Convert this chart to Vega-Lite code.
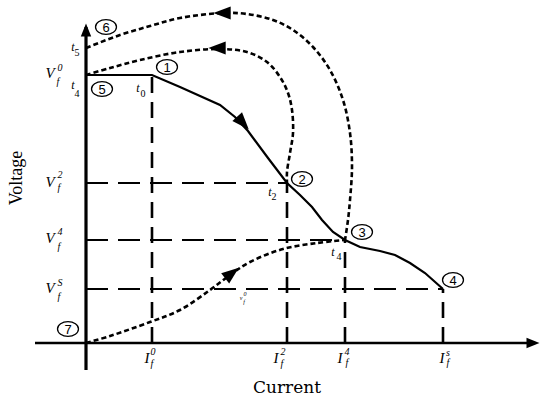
{
  "$schema": "https://vega.github.io/schema/vega-lite/v6.json",
  "width": 550,
  "height": 400,
  "padding": 0,
  "autosize": {"type": "fit", "contains": "padding"},
  "background": "white",
  "config": {"view": {"stroke": null}},
  "datasets": {
    "rules": [
      {"kind": "axisY", "x": 0, "y": -27, "x2": 0, "y2": 316},
      {"kind": "axisX", "x": -51, "y": 0, "x2": 446, "y2": 0},
      {"kind": "dashV", "x": 66, "y": 0, "x2": 66, "y2": 268},
      {"kind": "dashV", "x": 201, "y": 0, "x2": 201, "y2": 160},
      {"kind": "dashV", "x": 259, "y": 0, "x2": 259, "y2": 103},
      {"kind": "dashV", "x": 357, "y": 0, "x2": 357, "y2": 54},
      {"kind": "dashH", "x": 0, "y": 160, "x2": 201, "y2": 160},
      {"kind": "dashH", "x": 0, "y": 103, "x2": 259, "y2": 103},
      {"kind": "dashH", "x": 0, "y": 54, "x2": 357, "y2": 54}
    ],
    "solid": [
      {"i": 0, "x": 0, "y": 268}, {"i": 1, "x": 66, "y": 268}, {"i": 2, "x": 94, "y": 256},
      {"i": 3, "x": 134, "y": 238}, {"i": 4, "x": 149, "y": 226}, {"i": 5, "x": 162, "y": 212},
      {"i": 6, "x": 182, "y": 185}, {"i": 7, "x": 201, "y": 160}, {"i": 8, "x": 214, "y": 148},
      {"i": 9, "x": 226, "y": 136}, {"i": 10, "x": 236, "y": 123}, {"i": 11, "x": 247, "y": 111},
      {"i": 12, "x": 259, "y": 103}, {"i": 13, "x": 274, "y": 96}, {"i": 14, "x": 294, "y": 92},
      {"i": 15, "x": 309, "y": 88}, {"i": 16, "x": 324, "y": 80}, {"i": 17, "x": 339, "y": 70},
      {"i": 18, "x": 357, "y": 54}
    ],
    "dotted": [
      {"c": "A", "i": 0, "x": 0, "y": 268}, {"c": "A", "i": 1, "x": 24, "y": 275},
      {"c": "A", "i": 2, "x": 54, "y": 283}, {"c": "A", "i": 3, "x": 94, "y": 291},
      {"c": "A", "i": 4, "x": 134, "y": 294}, {"c": "A", "i": 5, "x": 161, "y": 291},
      {"c": "A", "i": 6, "x": 181, "y": 281}, {"c": "A", "i": 7, "x": 194, "y": 266},
      {"c": "A", "i": 8, "x": 202, "y": 250}, {"c": "A", "i": 9, "x": 206, "y": 233},
      {"c": "A", "i": 10, "x": 207, "y": 210}, {"c": "A", "i": 11, "x": 204, "y": 190},
      {"c": "A", "i": 12, "x": 201, "y": 171}, {"c": "A", "i": 13, "x": 201, "y": 160},
      {"c": "B", "i": 0, "x": 0, "y": 295}, {"c": "B", "i": 1, "x": 34, "y": 308},
      {"c": "B", "i": 2, "x": 64, "y": 317}, {"c": "B", "i": 3, "x": 94, "y": 325},
      {"c": "B", "i": 4, "x": 137, "y": 330}, {"c": "B", "i": 5, "x": 161, "y": 329},
      {"c": "B", "i": 6, "x": 187, "y": 323}, {"c": "B", "i": 7, "x": 207, "y": 313},
      {"c": "B", "i": 8, "x": 227, "y": 296}, {"c": "B", "i": 9, "x": 244, "y": 273},
      {"c": "B", "i": 10, "x": 257, "y": 243}, {"c": "B", "i": 11, "x": 264, "y": 210},
      {"c": "B", "i": 12, "x": 266, "y": 176}, {"c": "B", "i": 13, "x": 264, "y": 143},
      {"c": "B", "i": 14, "x": 262, "y": 123}, {"c": "B", "i": 15, "x": 259, "y": 103},
      {"c": "C", "i": 0, "x": 0, "y": 0}, {"c": "C", "i": 1, "x": 24, "y": 7},
      {"c": "C", "i": 2, "x": 64, "y": 21}, {"c": "C", "i": 3, "x": 94, "y": 33},
      {"c": "C", "i": 4, "x": 124, "y": 53}, {"c": "C", "i": 5, "x": 144, "y": 68},
      {"c": "C", "i": 6, "x": 164, "y": 81}, {"c": "C", "i": 7, "x": 197, "y": 94},
      {"c": "C", "i": 8, "x": 231, "y": 100}, {"c": "C", "i": 9, "x": 259, "y": 103}
    ],
    "arrows": [
      {"kind": "left", "x": 131, "y": 295},
      {"kind": "left", "x": 136, "y": 330},
      {"kind": "upright", "x": 146, "y": 70},
      {"kind": "downright", "x": 157, "y": 220}
    ],
    "axisArrows": [
      {"kind": "up", "x": 0, "y": 313},
      {"kind": "right", "x": 447, "y": 0}
    ],
    "circles": [
      {"n": "1", "x": 81, "y": 276}, {"n": "2", "x": 216, "y": 164}, {"n": "3", "x": 276, "y": 111},
      {"n": "4", "x": 367, "y": 63}, {"n": "5", "x": 16, "y": 254}, {"n": "6", "x": 20, "y": 316},
      {"n": "7", "x": -18, "y": 14}
    ],
    "labels": [
      {"role": "main", "t": "V", "x": -36, "y": 270}, {"role": "sup", "t": "0", "x": -26, "y": 275}, {"role": "sub", "t": "f", "x": -28, "y": 261},
      {"role": "main", "t": "V", "x": -36, "y": 161}, {"role": "sup", "t": "2", "x": -26, "y": 168}, {"role": "sub", "t": "f", "x": -27, "y": 155},
      {"role": "main", "t": "V", "x": -36, "y": 105}, {"role": "sup", "t": "4", "x": -26, "y": 111}, {"role": "sub", "t": "f", "x": -27, "y": 96},
      {"role": "main", "t": "V", "x": -36, "y": 55}, {"role": "sup", "t": "S", "x": -26, "y": 60}, {"role": "sub", "t": "f", "x": -27, "y": 46},
      {"role": "main", "t": "I", "x": 61, "y": -15}, {"role": "sup", "t": "0", "x": 67, "y": -9}, {"role": "sub", "t": "f", "x": 66, "y": -21},
      {"role": "main", "t": "I", "x": 190, "y": -15}, {"role": "sup", "t": "2", "x": 197, "y": -9}, {"role": "sub", "t": "f", "x": 196, "y": -21},
      {"role": "main", "t": "I", "x": 254, "y": -15}, {"role": "sup", "t": "4", "x": 261, "y": -9}, {"role": "sub", "t": "f", "x": 261, "y": -20},
      {"role": "main", "t": "I", "x": 356, "y": -15}, {"role": "sup", "t": "s", "x": 362, "y": -10}, {"role": "sub", "t": "f", "x": 362, "y": -20},
      {"role": "t", "t": "t", "x": -13, "y": 296}, {"role": "tsub", "t": "5", "x": -9, "y": 290},
      {"role": "t", "t": "t", "x": -13, "y": 258}, {"role": "tsub", "t": "4", "x": -9, "y": 249},
      {"role": "t", "t": "t", "x": 52, "y": 255}, {"role": "tsub", "t": "0", "x": 57, "y": 249},
      {"role": "t", "t": "t", "x": 184, "y": 151}, {"role": "tsub", "t": "2", "x": 188, "y": 146},
      {"role": "t", "t": "t", "x": 247, "y": 91}, {"role": "tsub", "t": "4", "x": 253, "y": 86},
      {"role": "tiny", "t": "v", "x": 155, "y": 45}, {"role": "tiny", "t": "0", "x": 159, "y": 49}, {"role": "tiny", "t": "f", "x": 158, "y": 41}
    ],
    "titles": [
      {"t": "Voltage", "x": -69, "y": 165, "rot": "v"},
      {"t": "Current", "x": 201, "y": -45, "rot": "h"}
    ]
  },
  "encoding": {
    "x": {"field": "x", "type": "quantitative", "scale": {"domain": [-86, 464], "nice": false, "zero": false}, "axis": null},
    "y": {"field": "y", "type": "quantitative", "scale": {"domain": [-57, 343], "nice": false, "zero": false}, "axis": null}
  },
  "layer": [
    {
      "data": {"name": "rules"},
      "transform": [{"filter": "datum.kind === 'dashH'"}],
      "mark": {"type": "rule", "color": "black", "strokeWidth": 1.8, "strokeDash": [22, 10]},
      "encoding": {"x2": {"field": "x2"}, "y2": {"field": "y2"}}
    },
    {
      "data": {"name": "rules"},
      "transform": [{"filter": "datum.kind === 'dashV'"}],
      "mark": {"type": "rule", "color": "black", "strokeWidth": 2.6, "strokeDash": [16, 9]},
      "encoding": {"x2": {"field": "x2"}, "y2": {"field": "y2"}}
    },
    {
      "data": {"name": "rules"},
      "transform": [{"filter": "datum.kind === 'axisY'"}],
      "mark": {"type": "rule", "color": "black", "strokeWidth": 3.2},
      "encoding": {"x2": {"field": "x2"}, "y2": {"field": "y2"}}
    },
    {
      "data": {"name": "rules"},
      "transform": [{"filter": "datum.kind === 'axisX'"}],
      "mark": {"type": "rule", "color": "black", "strokeWidth": 2.4},
      "encoding": {"x2": {"field": "x2"}, "y2": {"field": "y2"}}
    },
    {
      "data": {"name": "dotted"},
      "mark": {"type": "line", "color": "black", "strokeWidth": 2.6, "strokeDash": [5, 3], "interpolate": "catmull-rom"},
      "encoding": {"detail": {"field": "c"}, "order": {"field": "i", "type": "quantitative"}}
    },
    {
      "data": {"name": "solid"},
      "mark": {"type": "line", "color": "black", "strokeWidth": 2.2, "interpolate": "linear"},
      "encoding": {"order": {"field": "i", "type": "quantitative"}}
    },
    {
      "data": {"name": "arrows"},
      "transform": [{"filter": "datum.kind === 'left'"}],
      "mark": {"type": "point", "shape": "M -1 0 L 1 -0.75 L 1 0.75 Z", "filled": true, "color": "black", "opacity": 1, "size": 300}
    },
    {
      "data": {"name": "arrows"},
      "transform": [{"filter": "datum.kind === 'upright'"}],
      "mark": {"type": "point", "shape": "M 1 0 L -1 -0.75 L -1 0.75 Z", "filled": true, "color": "black", "opacity": 1, "size": 300, "angle": 322}
    },
    {
      "data": {"name": "arrows"},
      "transform": [{"filter": "datum.kind === 'downright'"}],
      "mark": {"type": "point", "shape": "M 1 0 L -1 -0.75 L -1 0.75 Z", "filled": true, "color": "black", "opacity": 1, "size": 300, "angle": 48}
    },
    {
      "data": {"name": "axisArrows"},
      "transform": [{"filter": "datum.kind === 'up'"}],
      "mark": {"type": "point", "shape": "M 0 -1 L -0.8 1 L 0.8 1 Z", "filled": true, "color": "black", "opacity": 1, "size": 170}
    },
    {
      "data": {"name": "axisArrows"},
      "transform": [{"filter": "datum.kind === 'right'"}],
      "mark": {"type": "point", "shape": "M 1 0 L -1 -0.8 L -1 0.8 Z", "filled": true, "color": "black", "opacity": 1, "size": 170}
    },
    {
      "data": {"name": "circles"},
      "mark": {"type": "point", "shape": "M -1 0 A 1 0.7 0 1 1 1 0 A 1 0.7 0 1 1 -1 0 Z", "filled": false, "stroke": "black", "fill": "white", "fillOpacity": 1, "strokeWidth": 1.3, "opacity": 1, "size": 440}
    },
    {
      "data": {"name": "circles"},
      "mark": {"type": "text", "font": "Liberation Sans", "fontSize": 13, "color": "black", "baseline": "middle", "align": "center", "dy": 0.5},
      "encoding": {"text": {"field": "n"}}
    },
    {
      "data": {"name": "labels"},
      "transform": [{"filter": "datum.role === 'main'"}],
      "mark": {"type": "text", "font": "Liberation Serif", "fontStyle": "italic", "fontSize": 15, "color": "black", "baseline": "middle", "align": "center"},
      "encoding": {"text": {"field": "t"}}
    },
    {
      "data": {"name": "labels"},
      "transform": [{"filter": "datum.role === 'sup' || datum.role === 'sub'"}],
      "mark": {"type": "text", "font": "Liberation Serif", "fontStyle": "italic", "fontSize": 10, "color": "black", "baseline": "middle", "align": "center"},
      "encoding": {"text": {"field": "t"}}
    },
    {
      "data": {"name": "labels"},
      "transform": [{"filter": "datum.role === 't'"}],
      "mark": {"type": "text", "font": "Liberation Serif", "fontStyle": "italic", "fontSize": 12, "color": "black", "baseline": "middle", "align": "center"},
      "encoding": {"text": {"field": "t"}}
    },
    {
      "data": {"name": "labels"},
      "transform": [{"filter": "datum.role === 'tsub'"}],
      "mark": {"type": "text", "font": "Liberation Serif", "fontSize": 10, "color": "black", "baseline": "middle", "align": "center"},
      "encoding": {"text": {"field": "t"}}
    },
    {
      "data": {"name": "labels"},
      "transform": [{"filter": "datum.role === 'tiny'"}],
      "mark": {"type": "text", "font": "Liberation Serif", "fontStyle": "italic", "fontSize": 6, "color": "black", "baseline": "middle", "align": "center"},
      "encoding": {"text": {"field": "t"}}
    },
    {
      "data": {"name": "titles"},
      "transform": [{"filter": "datum.rot === 'h'"}],
      "mark": {"type": "text", "font": "DejaVu Serif", "fontSize": 17, "color": "black", "baseline": "middle", "align": "center"},
      "encoding": {"text": {"field": "t"}}
    },
    {
      "data": {"name": "titles"},
      "transform": [{"filter": "datum.rot === 'v'"}],
      "mark": {"type": "text", "font": "Liberation Serif", "fontSize": 18, "color": "black", "baseline": "middle", "align": "center", "angle": 270},
      "encoding": {"text": {"field": "t"}}
    }
  ]
}
